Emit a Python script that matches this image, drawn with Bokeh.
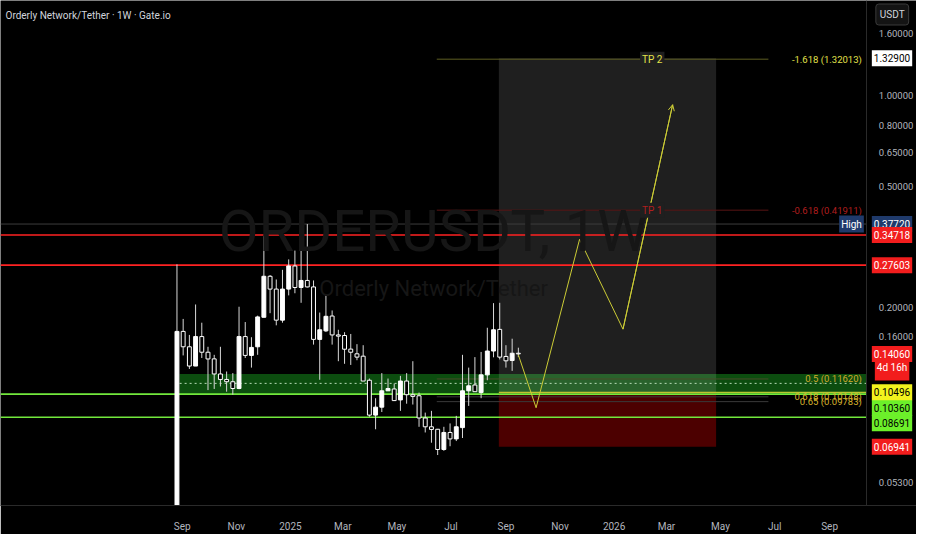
import pandas as pd
from bokeh.plotting import figure
from bokeh.models import (Label, FixedTicker, PrintfTickFormatter, Range1d,
                          Arrow, OpenHead)
from bokeh.embed import file_html
from bokeh.resources import INLINE

# ---------------- data ----------------
first_week = "2024-08-26"
opens = [0.035, 0.1668, 0.1484, 0.1282, 0.1604, 0.1424, 0.1354, 0.1207, 0.1158, 0.1138,
         0.1081, 0.1604, 0.1390, 0.1484, 0.1857, 0.2536, 0.2301, 0.1817, 0.2301, 0.2743,
         0.2329, 0.2457, 0.2339, 0.1570, 0.1675, 0.1875, 0.1624, 0.1617, 0.1458, 0.1407,
         0.1382, 0.1151, 0.0883, 0.0938, 0.1062, 0.1077, 0.0991, 0.1144, 0.1031, 0.1023,
         0.0864, 0.0808, 0.0793, 0.0680, 0.0774, 0.0737, 0.0803, 0.1062, 0.1110, 0.1048,
         0.1199, 0.1437, 0.1694, 0.1379, 0.1337, 0.1413]
highs = [0.2776, 0.1834, 0.1624, 0.2047, 0.1782, 0.1484, 0.1396, 0.1484, 0.1230, 0.1215,
         0.2012, 0.1791, 0.1596, 0.1880, 0.3439, 0.2560, 0.2475, 0.2663, 0.2883, 0.3083,
         0.3158, 0.3772, 0.2457, 0.1925, 0.2202, 0.1956, 0.1689, 0.1658, 0.1636, 0.1514,
         0.1502, 0.1166, 0.1004, 0.1215, 0.1166, 0.1123, 0.1190, 0.1215, 0.1330, 0.1048,
         0.0900, 0.0912, 0.0795, 0.0808, 0.0829, 0.0878, 0.1396, 0.1267, 0.1372, 0.1427,
         0.1715, 0.2068, 0.2073, 0.1502, 0.1578, 0.1474]
lows = [0.035, 0.1390, 0.1254, 0.1282, 0.1363, 0.1068, 0.1077, 0.1098, 0.1055, 0.1031,
        0.1075, 0.1363, 0.1267, 0.1396, 0.1857, 0.1916, 0.1747, 0.1782, 0.2193, 0.2229,
        0.2073, 0.2330, 0.1509, 0.1155, 0.1660, 0.1509, 0.1330, 0.1304, 0.1293, 0.1340,
        0.1144, 0.0872, 0.0793, 0.0904, 0.1062, 0.0986, 0.0912, 0.0963, 0.0957, 0.0808,
        0.0774, 0.0716, 0.0652, 0.0673, 0.0697, 0.0725, 0.0742, 0.0947, 0.1055, 0.1004,
        0.1151, 0.1370, 0.1348, 0.1267, 0.1236, 0.1372]
closes = [0.1668, 0.1484, 0.1282, 0.1604, 0.1424, 0.1353, 0.1207, 0.1158, 0.1138, 0.1081,
          0.1604, 0.1390, 0.1477, 0.1862, 0.2536, 0.2301, 0.1817, 0.2301, 0.2743, 0.2329,
          0.2457, 0.2339, 0.1570, 0.1689, 0.1871, 0.1624, 0.1609, 0.1457, 0.1424, 0.1372,
          0.1144, 0.0883, 0.0938, 0.1062, 0.1081, 0.0986, 0.1144, 0.1031, 0.1018, 0.0864,
          0.0808, 0.0792, 0.0680, 0.0774, 0.0737, 0.0808, 0.1062, 0.1103, 0.1055, 0.1199,
          0.1437, 0.1689, 0.1372, 0.1334, 0.1413, 0.1406]

x_tick_dates = ["2024-09-01", "2024-11-01", "2025-01-01", "2025-03-01", "2025-05-01",
                "2025-07-01", "2025-09-01", "2025-11-01", "2026-01-01", "2026-03-01",
                "2026-05-01", "2026-07-01", "2026-09-01"]
x_tick_labels = ["Sep", "Nov", "2025", "Mar", "May", "Jul", "Sep", "Nov", "2026",
                 "Mar", "May", "Jul", "Sep"]
y_ticks = [1.6, 1.0, 0.8, 0.65, 0.5, 0.2, 0.16, 0.053]

high_level = 0.37720
red_levels = [0.34718, 0.27603]
green_levels = [0.10360, 0.08691]
entry_level = 0.10496
target_level = 1.32900
stop_level = 0.06941
last_price = 0.14060

zone_start, zone_top, zone_bottom = "2024-08-29", 0.1207, 0.1036
dotted_level = 0.1124
pos_start, pos_end = "2025-08-24", "2026-04-26"

fib_start, fib_end = "2025-06-15", "2026-06-24"
fib_levels = [1.32013, 0.41911, 0.11620, 0.10148, 0.09783]
fib_texts = ["-1.618 (1.32013)", "-0.618 (0.41911)", "0.5 (0.11620)",
             "0.618 (0.10148)", "0.65 (0.09783)"]
fib_colors = ["#5e5e22", "#5a1414", "#4a4a2a", "#3a3a3a", "#3a3a3a"]
fib_text_colors = ["#e2e24a", "#b01e1e", "#d2aa2a", "#d8b42c", "#d8b42c"]
tp_date = "2026-02-13"
tp_texts = ["TP 2", "TP 1"]

path_dates = ["2025-09-15", "2025-10-05", "2025-11-23", "2026-01-11", "2026-03-08"]
path_prices = [0.1396, 0.0934, 0.3357, 0.1697, 0.934]

# pane (chart area) and price-scale extents
x_start_date, pane_end_date, x_end_date = "2024-02-09", "2026-10-13", "2026-12-08"
y_low, y_high = 0.04443, 2.062

# ---------------- helpers ----------------
def ms(d):
    return pd.Timestamp(d).value / 1e6

DAY = 86400000.0
dates = [ms(d) for d in pd.date_range(first_week, periods=len(opens), freq="7D")]
x0, xp, x1 = ms(x_start_date), ms(pane_end_date), ms(x_end_date)

BG = "#000000"
AX = "#b2b5be"
FONT = "Roboto"

p = figure(width=916, height=534, x_axis_type="datetime", y_axis_type="log",
           y_axis_location="right", x_range=Range1d(x0, x1),
           y_range=Range1d(y_low, y_high), toolbar_location=None,
           output_backend="svg", background_fill_color=BG, border_fill_color=BG,
           outline_line_color=None, min_border_left=0, min_border_top=0,
           min_border_right=0, min_border_bottom=25)
p.grid.visible = False

# axes
xa = p.xaxis[0]
xa.ticker = FixedTicker(ticks=[ms(d) for d in x_tick_dates], minor_ticks=[])
xa.major_label_overrides = {ms(d): t for d, t in zip(x_tick_dates, x_tick_labels)}
ya = p.yaxis[0]
ya.fixed_location = xp
ya.ticker = FixedTicker(ticks=y_ticks, minor_ticks=[])
ya.formatter = PrintfTickFormatter(format="%.5f")
for ax in (xa, ya):
    ax.axis_line_color = "#2a2a2a"
    ax.major_tick_line_color = None
    ax.minor_tick_line_color = None
    ax.major_label_text_color = AX
    ax.major_label_text_font = FONT
xa.major_label_text_font_size = "10px"
ya.major_label_text_font_size = "9.5px"
xa.major_label_standoff = 9
ya.major_label_standoff = 6

# watermark
xm = (x0 + xp) / 2
p.add_layout(Label(x=xm, y=0.3567, text="ORDERUSDT, 1W", text_align="center",
                   text_baseline="middle", text_font=FONT, text_font_size="58px",
                   text_color="#161616"))
p.add_layout(Label(x=xm, y=0.2317, text="Orderly Network/Tether", text_align="center",
                   text_baseline="middle", text_font=FONT, text_font_size="22px",
                   text_color="#161616"))

# green zone
p.quad(left=[ms(zone_start)], right=[xp], top=[zone_top], bottom=[zone_bottom],
       fill_color="#0e5a12", fill_alpha=0.85, line_color=None)
# position boxes
p.quad(left=[ms(pos_start)], right=[ms(pos_end)], top=[target_level], bottom=[entry_level],
       fill_color="#ffffff", fill_alpha=0.12, line_color=None)
p.quad(left=[ms(pos_start)], right=[ms(pos_end)], top=[entry_level], bottom=[stop_level],
       fill_color="#8a0000", fill_alpha=0.55, line_color=None)

# fib lines
p.segment(x0=[ms(fib_start)] * len(fib_levels), x1=[ms(fib_end)] * len(fib_levels),
          y0=fib_levels, y1=fib_levels, line_color=fib_colors, line_width=1)

# horizontal levels across the pane
p.segment(x0=[x0], x1=[xp], y0=[high_level], y1=[high_level], line_color="#3c3c3c", line_width=1)
p.segment(x0=[x0] * 2, x1=[xp] * 2, y0=red_levels, y1=red_levels,
          line_color="#ff2222", line_width=1.6)
p.segment(x0=[x0] * 2, x1=[xp] * 2, y0=green_levels, y1=green_levels,
          line_color="#72e83c", line_width=1.6)
p.segment(x0=[ms(pos_start)], x1=[xp], y0=[entry_level], y1=[entry_level],
          line_color="#e6e63a", line_width=1.2, line_alpha=0.8)
p.segment(x0=[ms(zone_start)], x1=[xp], y0=[dotted_level], y1=[dotted_level],
          line_color="#b8dcb8", line_width=1, line_dash="2 3")

# candles
up = [c >= o for o, c in zip(opens, closes)]
p.segment(x0=dates, x1=dates, y0=lows, y1=highs, line_color="#d8d8d8", line_width=1)
p.vbar(x=dates, width=4.4 * DAY,
       top=[max(o, c) for o, c in zip(opens, closes)],
       bottom=[min(o, c) for o, c in zip(opens, closes)],
       fill_color=["#ffffff" if u else "#000000" for u in up],
       line_color="#ffffff", line_width=1)

# projected path
YEL = "#cccc36"
pdx = [ms(d) for d in path_dates]
p.line(pdx, path_prices, line_color=YEL, line_width=1)
p.add_layout(Arrow(end=OpenHead(size=6, line_color=YEL, line_width=1),
                   x_start=pdx[-2], y_start=path_prices[-2],
                   x_end=pdx[-1], y_end=path_prices[-1],
                   line_color=YEL, line_width=1))

# fib texts
for lv, t, c in zip(fib_levels, fib_texts, fib_text_colors):
    p.add_layout(Label(x=xp, y=lv, x_offset=-5, text=t, text_align="right",
                       text_baseline="middle", text_font=FONT, text_font_size="9.5px",
                       text_color=c))
for lv, t, c in zip(fib_levels[:2], tp_texts, fib_text_colors[:2]):
    p.add_layout(Label(x=ms(tp_date), y=lv, text=t, text_align="center",
                       text_baseline="middle", text_font=FONT, text_font_size="10px",
                       text_color=c, background_fill_color="#1f1f1f", padding=2))

# title
p.add_layout(Label(x=x0, y=y_high, x_offset=5, y_offset=-15,
                   text="Orderly Network/Tether \u00b7 1W \u00b7 Gate.io",
                   text_baseline="middle", text_font=FONT, text_font_size="10px",
                   text_color="#d1d4dc"))

# price tags on the scale (later entries drawn on top)
tags = [
    (target_level, "1.32900", "#ffffff", "#000000", 0, 4),
    (high_level, "0.37720", "#1f3a6b", "#ffffff", 0, 4),
    (red_levels[0], "0.34718", "#f21d1d", "#ffffff", 0, 4),
    (red_levels[1], "0.27603", "#f21d1d", "#ffffff", 0, 4),
    (last_price, "4d 16h", "#f21d1d", "#ffffff", -14, 7),
    (last_price, "0.14060", "#f21d1d", "#ffffff", 0, 4),
    (green_levels[1], "0.08691", "#6cf02a", "#000000", -6, 4),
    (green_levels[0], "0.10360", "#6cf02a", "#000000", -14, 4),
    (entry_level, "0.10496", "#f2f21d", "#000000", 0, 4),
    (stop_level, "0.06941", "#f21d1d", "#ffffff", 0, 4),
]
for lv, t, bg, fg, off, padh in tags:
    p.add_layout(Label(x=xp, y=lv, x_offset=padh + 1, y_offset=off, text=t, text_align="left",
                       text_baseline="middle", text_font=FONT, text_font_size="10px",
                       text_color=fg, background_fill_color=bg, padding=(2, padh)))
p.add_layout(Label(x=xp, y=high_level, x_offset=-3, text="High", text_align="right",
                   text_baseline="middle", text_font=FONT, text_font_size="10px",
                   text_color="#ffffff", background_fill_color="#1f3a6b", padding=(2, 3)))
p.add_layout(Label(x=xp, y=y_high, x_offset=9, y_offset=-14, text="USDT", text_align="left",
                   text_baseline="middle", text_font=FONT, text_font_size="10px",
                   text_color="#d1d4dc", background_fill_color="#141414",
                   border_line_color="#3a3a3a", border_radius=3, padding=(4, 5)))

open("out.html", "w").write(file_html(p, INLINE))
